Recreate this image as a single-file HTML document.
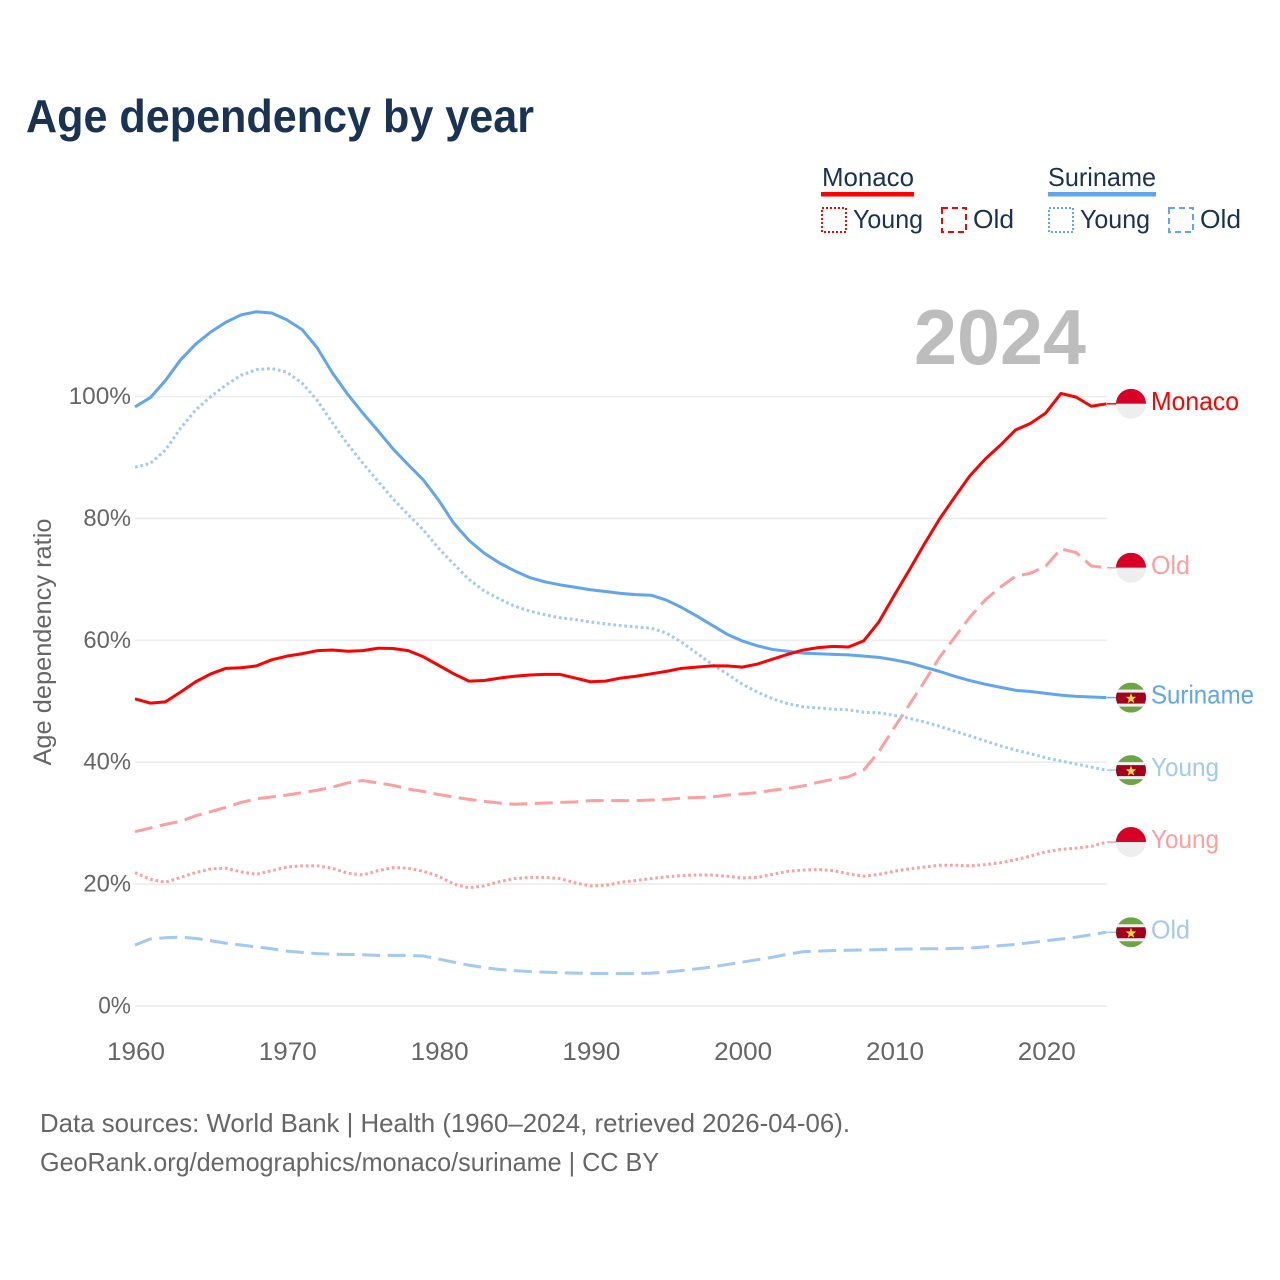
<!DOCTYPE html>
<html lang="en">
<head>
<meta charset="utf-8">
<title>Age dependency by year</title>
<style>
html,body{margin:0;padding:0;background:#fff;width:1280px;height:1280px;overflow:hidden}
svg{display:block;font-family:"Liberation Sans",sans-serif}
</style>
</head>
<body>
<svg id="chart" xmlns="http://www.w3.org/2000/svg" width="1280" height="1280" viewBox="0 0 1280 1280">
<defs>
<clipPath id="flag-clip"><circle cx="0" cy="0" r="15"/></clipPath>
</defs>
<rect x="0" y="0" width="1280" height="1280" fill="#fff"/>
<text x="26" y="132" font-size="46" font-weight="700" fill="#1a3352" textLength="508" lengthAdjust="spacingAndGlyphs">Age dependency by year</text>

<g font-size="26" fill="#1a3352">
<text x="822" y="186" textLength="92" lengthAdjust="spacingAndGlyphs">Monaco</text>
<rect x="821" y="192" width="93" height="4.5" fill="#ff0000"/>
<rect x="822" y="208" width="24" height="24" fill="none" stroke="#ff0000" stroke-width="2" stroke-dasharray="2 2"/>
<text x="853" y="228" textLength="70" lengthAdjust="spacingAndGlyphs">Young</text>
<rect x="942" y="208" width="24" height="24" fill="none" stroke="#ff0000" stroke-width="2" stroke-dasharray="6 4"/>
<text x="973" y="228" textLength="41" lengthAdjust="spacingAndGlyphs">Old</text>
<text x="1048" y="186" textLength="108" lengthAdjust="spacingAndGlyphs">Suriname</text>
<rect x="1048" y="192" width="108" height="4.5" fill="#60a5ee"/>
<rect x="1049" y="208" width="24" height="24" fill="none" stroke="#60a5ee" stroke-width="2" stroke-dasharray="2 2"/>
<text x="1080" y="228" textLength="70" lengthAdjust="spacingAndGlyphs">Young</text>
<rect x="1169" y="208" width="24" height="24" fill="none" stroke="#60a5ee" stroke-width="2" stroke-dasharray="6 4"/>
<text x="1200" y="228" textLength="41" lengthAdjust="spacingAndGlyphs">Old</text>
</g>

<g id="grid"></g>
<g id="yticks"></g>
<g id="xticks"></g>
<text transform="translate(51,642) rotate(-90)" text-anchor="middle" font-size="25" fill="#666" textLength="247" lengthAdjust="spacingAndGlyphs">Age dependency ratio</text>
<text x="914" y="364" font-size="78" font-weight="700" fill="#bdbdbd" textLength="172" lengthAdjust="spacingAndGlyphs">2024</text>
<g id="series"></g>
<g id="ends"></g>

<text x="40" y="1132" font-size="26" fill="#666" textLength="810" lengthAdjust="spacingAndGlyphs">Data sources: World Bank | Health (1960–2024, retrieved 2026-04-06).</text>
<text x="40" y="1171" font-size="26" fill="#666" textLength="619" lengthAdjust="spacingAndGlyphs">GeoRank.org/demographics/monaco/suriname | CC BY</text>
</svg>
<script>
const startYear = 1960;
const xTickYears = [1960, 1970, 1980, 1990, 2000, 2010, 2020];
const yTickValues = [0, 20, 40, 60, 80, 100];

const surinameTotal = [98.3,99.8,102.6,106,108.6,110.6,112.2,113.4,113.9,113.7,112.6,111,108,103.9,100.4,97.3,94.4,91.4,88.8,86.3,83,79.2,76.4,74.3,72.7,71.4,70.3,69.6,69.1,68.7,68.3,68,67.7,67.5,67.4,66.6,65.4,64,62.5,61,59.9,59.1,58.5,58.2,57.9,57.8,57.7,57.6,57.4,57.2,56.8,56.3,55.6,54.9,54.1,53.4,52.8,52.3,51.8,51.6,51.3,51,50.8,50.7,50.6];
const surinameYoung = [88.4,89,91.2,94.8,97.8,100,101.9,103.5,104.4,104.6,104,102.2,99.4,95.7,92.2,89.1,86.1,83.2,80.6,78.1,75.1,72.5,70,68.1,66.8,65.6,64.8,64.2,63.7,63.4,63,62.7,62.4,62.2,62,61.2,59.7,57.9,56.1,54.5,52.8,51.5,50.4,49.6,49.1,48.9,48.7,48.6,48.2,48.1,47.7,47.2,46.6,45.9,45.1,44.3,43.5,42.7,42,41.4,40.7,40.2,39.7,39.2,38.7];
const surinameOld = [10,11,11.2,11.3,11.1,10.7,10.3,10,9.7,9.4,9,8.8,8.6,8.5,8.45,8.4,8.3,8.3,8.3,8.2,7.7,7.2,6.7,6.3,6,5.8,5.65,5.55,5.45,5.4,5.35,5.33,5.33,5.33,5.4,5.55,5.8,6.1,6.4,6.8,7.2,7.6,8,8.5,8.9,9,9.1,9.15,9.2,9.25,9.3,9.35,9.4,9.4,9.45,9.5,9.7,9.9,10.1,10.4,10.7,11,11.3,11.7,12.1];
const monacoTotal = [50.4,49.7,49.9,51.5,53.2,54.5,55.4,55.5,55.8,56.8,57.4,57.8,58.3,58.4,58.2,58.3,58.7,58.65,58.3,57.3,55.9,54.5,53.3,53.4,53.8,54.1,54.3,54.4,54.4,53.8,53.2,53.3,53.8,54.1,54.5,54.9,55.4,55.6,55.8,55.8,55.6,56.1,56.9,57.7,58.4,58.8,59,58.9,59.9,63,67.3,71.5,75.8,79.9,83.5,87,89.7,92,94.5,95.6,97.3,100.5,99.9,98.4,98.8];
const monacoOld = [28.6,29.2,29.8,30.3,31.2,31.9,32.6,33.4,34,34.3,34.6,35,35.4,35.9,36.6,37,36.6,36.2,35.6,35.2,34.7,34.3,33.9,33.6,33.3,33.1,33.2,33.3,33.4,33.5,33.7,33.7,33.7,33.7,33.8,33.9,34.1,34.2,34.3,34.6,34.8,35,35.4,35.7,36.1,36.7,37.2,37.6,38.7,41.7,45.6,49.4,53.2,57.2,60.5,63.8,66.6,68.7,70.5,71,72.2,75,74.4,72.2,71.9];
const monacoYoung = [21.9,20.8,20.3,21.1,21.9,22.5,22.6,22,21.6,22.2,22.8,23,23,22.6,21.8,21.5,22.2,22.7,22.6,22.1,21.3,20,19.4,19.7,20.4,20.9,21.1,21.1,20.9,20.2,19.7,19.8,20.3,20.6,20.9,21.2,21.4,21.5,21.5,21.3,21,21.1,21.6,22.1,22.3,22.4,22.2,21.7,21.3,21.6,22.1,22.5,22.8,23.1,23.1,23,23.2,23.5,24,24.6,25.3,25.7,25.9,26.2,26.9];

const NS = 'http://www.w3.org/2000/svg';
const xScale = year => 135 + (year - startYear) * 15.18;
const yScale = value => 1006 - value * 6.095;
const plotRight = 1107;
const flagX = 1131;
const labelX = 1151;

function make(tag, attrs, parent, text) {
  const el = document.createElementNS(NS, tag);
  for (const k in attrs) el.setAttribute(k, attrs[k]);
  if (text !== undefined) el.textContent = text;
  parent.appendChild(el);
  return el;
}

const gridGroup = document.getElementById('grid');
const yTickGroup = document.getElementById('yticks');
yTickValues.forEach(v => {
  const line = make('line', {x1: 135, x2: plotRight, y1: yScale(v), y2: yScale(v), stroke: '#ececec', 'stroke-width': 1.6}, gridGroup);
  
  
  const label = make('text', {x: 131, y: yScale(v) + 7.5, 'text-anchor': 'end', 'font-size': 24.5, fill: '#666', textLength: String(v).length * 14.8 + 18, lengthAdjust: 'spacingAndGlyphs'}, yTickGroup, v + '%');
  
  
});

const xTickGroup = document.getElementById('xticks');
xTickYears.forEach(y => {
  const label = make('text', {x: xScale(y) + 1, y: 1060, 'text-anchor': 'middle', 'font-size': 25, fill: '#666', textLength: 58, lengthAdjust: 'spacingAndGlyphs'}, xTickGroup, String(y));
  
  
});

function pathFor(values) {
  return values.map((v, i) => (i ? 'L' : 'M') + xScale(startYear + i).toFixed(2) + ' ' + yScale(v).toFixed(2)).join(' ');
}

const seriesGroup = document.getElementById('series');
function drawLine(values, color, dash, name) {
  const attrs = {d: pathFor(values), fill: 'none', stroke: color, 'stroke-width': 3, 'stroke-linejoin': 'round'};
  if (dash) attrs['stroke-dasharray'] = dash;
  const p = make('path', attrs, seriesGroup);
  
  
}
drawLine(monacoOld, '#ff9e9e', '18 7.5', 'line-monaco-old');
drawLine(monacoYoung, '#ff9e9e', '2.7 2.8', 'line-monaco-young');
drawLine(surinameOld, '#a1c9f3', '18 7.5', 'line-suriname-old');
drawLine(surinameYoung, '#a1c9f3', '2.7 2.8', 'line-suriname-young');
drawLine(surinameTotal, '#60a5ee', '', 'line-suriname-total');
drawLine(monacoTotal, '#ff0000', '', 'line-monaco-total');

const endGroup = document.getElementById('ends');
function starPoints(r) {
  const pts = [];
  for (let i = 0; i < 10; i++) {
    const rad = i % 2 ? r * 0.42 : r;
    const a = -Math.PI / 2 + i * Math.PI / 5;
    pts.push((rad * Math.cos(a)).toFixed(2) + ',' + (rad * Math.sin(a) + 1).toFixed(2));
  }
  return pts.join(' ');
}
function drawFlag(country, y) {
  const g = make('g', {transform: 'translate(' + flagX + ',' + y + ')', 'clip-path': 'url(#flag-clip)'}, endGroup);
  
  
  if (country === 'monaco') {
    make('rect', {x: -15, y: -15, width: 30, height: 15, fill: '#d80027'}, g);
    make('rect', {x: -15, y: 0, width: 30, height: 15, fill: '#eeeeee'}, g);
  } else {
    make('rect', {x: -15, y: -15, width: 30, height: 30, fill: '#6da544'}, g);
    make('rect', {x: -15, y: -8, width: 30, height: 17, fill: '#f0f0f0'}, g);
    make('rect', {x: -15, y: -5, width: 30, height: 11, fill: '#a2001d'}, g);
    make('polygon', {points: starPoints(5.5), fill: '#ffda44'}, g);
  }
}
function drawEnd(country, text, color, lastValue, width, name) {
  const y = yScale(lastValue);
  const c = make('line', {x1: plotRight, x2: flagX - 14, y1: y, y2: y, stroke: color, 'stroke-width': 1.5}, endGroup);
  
  
  drawFlag(country, y);
  const t = make('text', {x: labelX, y: y + 6, 'font-size': 26, fill: color, textLength: width, lengthAdjust: 'spacingAndGlyphs'}, endGroup, text);
  
  
}
drawEnd('monaco', 'Monaco', '#ff0000', monacoTotal[monacoTotal.length - 1], 88, 'monaco-total');
drawEnd('monaco', 'Old', '#ff9e9e', monacoOld[monacoOld.length - 1], 39, 'monaco-old');
drawEnd('suriname', 'Suriname', '#60a5ee', surinameTotal[surinameTotal.length - 1], 103, 'suriname-total');
drawEnd('suriname', 'Young', '#a1c9f3', surinameYoung[surinameYoung.length - 1], 68, 'suriname-young');
drawEnd('monaco', 'Young', '#ff9e9e', monacoYoung[monacoYoung.length - 1], 68, 'monaco-young');
drawEnd('suriname', 'Old', '#a1c9f3', surinameOld[surinameOld.length - 1], 39, 'suriname-old');
</script>
</body>
</html>
